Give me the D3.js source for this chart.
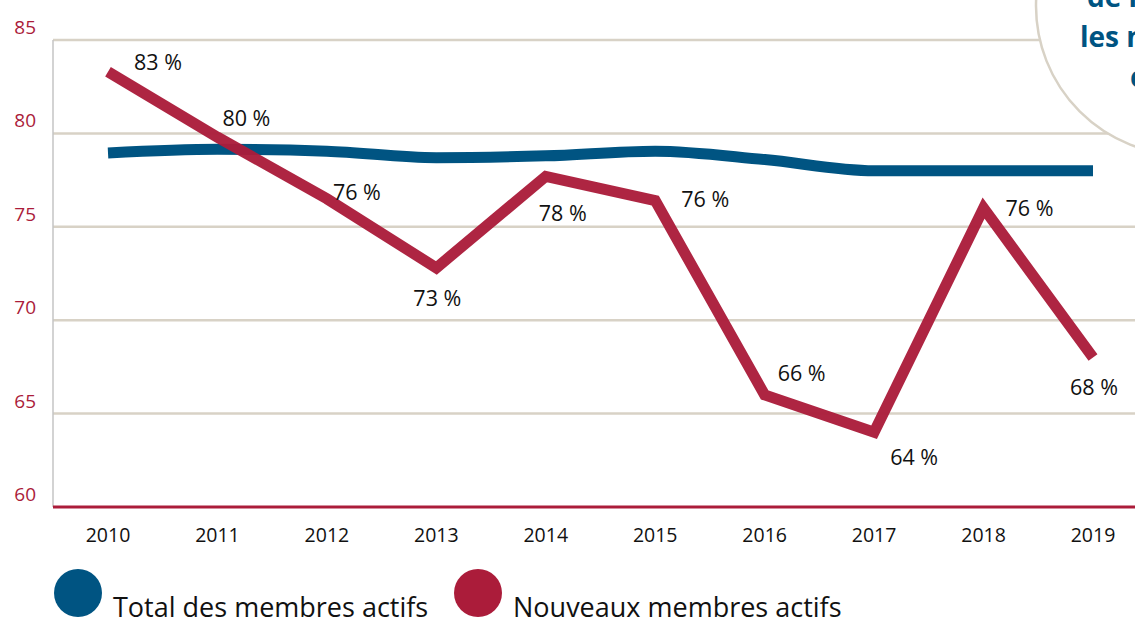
<!DOCTYPE html>
<html>
<head>
<meta charset="utf-8">
<script src="https://cdn.jsdelivr.net/npm/d3@7"></script>
<style>
  body { margin: 0; background: #fff; }
  svg { display: block; font-family: "Open Sans", "Noto Sans", sans-serif; }
</style>
</head>
<body>
<div id="chart"></div>
<script>
// Data
const years = ['2010', '2011', '2012', '2013', '2014', '2015', '2016', '2017', '2018', '2019'];
const totalActifs = [78.95, 79.15, 79.05, 78.7, 78.8, 79.05, 78.6, 78.0, 78.0, 78.0];
const nouveauxActifs = [83.3, 79.8, 76.5, 72.8, 77.7, 76.4, 66.0, 64.0, 76.0, 68.0];
const nouveauxLabels = ['83 %', '80 %', '76 %', '73 %', '78 %', '76 %', '66 %', '64 %', '76 %', '68 %'];
const yTicks = [60, 65, 70, 75, 80, 85];
const legendLabels = ['Total des membres actifs', 'Nouveaux membres actifs'];
const calloutLines = ['de l\u2019ensemble', 'les nouveaux', 'comptent'];

// Position des étiquettes (décalage par rapport au point)
const labelOffsets = [[50, -9], [29, -19], [30, -6], [1, 31], [17, 37], [50, -1], [37, -21], [40, 25], [46, 0], [1, 30]];

const blue = '#005482';
const red = '#ab1c3a';
const grid = '#d8d2c6';

const W = 1135, H = 621;
const svg = d3.select('#chart').append('svg')
  .attr('width', W)
  .attr('height', H);

// Scales
const x = d3.scalePoint().domain(years).range([108, 1093]);
const y = d3.scaleLinear().domain([60, 85]).range([507, 40]);
const axisX = 53;

// Gridlines
svg.append('g')
  .selectAll('line')
  .data(yTicks.filter(d => d > 60))
  .enter()
  .append('line')
  .attr('x1', axisX).attr('x2', W)
  .attr('y1', d => y(d)).attr('y2', d => y(d))
  .attr('stroke', grid)
  .attr('stroke-width', 2.5);

// Axe vertical
svg.append('line')
  .attr('x1', axisX).attr('x2', axisX)
  .attr('y1', y(85)).attr('y2', y(60))
  .attr('stroke', '#c4c4c4')
  .attr('stroke-width', 1.5);

// Ligne de base
svg.append('line')
  .attr('x1', axisX).attr('x2', W)
  .attr('y1', y(60)).attr('y2', y(60))
  .attr('stroke', red)
  .attr('stroke-width', 3);

// Y labels
svg.append('g')
  .selectAll('text')
  .data(yTicks)
  .enter()
  .append('text')
  .attr('x', 36)
  .attr('y', d => y(d) - 6)
  .attr('text-anchor', 'end')
  .attr('font-size', '19px')
  .attr('fill', red)
  .text(d => d);

// X labels
svg.append('g')
  .selectAll('text')
  .data(years)
  .enter()
  .append('text')
  .attr('x', d => x(d))
  .attr('y', 542)
  .attr('text-anchor', 'middle')
  .attr('font-size', '19.5px')
  .attr('fill', '#111')
  .text(d => d);

// Lignes
const lineTotal = d3.line()
  .x((d, i) => x(years[i]))
  .y(d => y(d))
  .curve(d3.curveMonotoneX);

const lineNouveaux = d3.line()
  .x((d, i) => x(years[i]))
  .y(d => y(d));

svg.append('path')
  .datum(totalActifs)
  .attr('d', lineTotal)
  .attr('fill', 'none')
  .attr('stroke', blue)
  .attr('stroke-width', 11);

svg.append('path')
  .datum(nouveauxActifs)
  .attr('d', lineNouveaux)
  .attr('fill', 'none')
  .attr('stroke', red)
  .attr('stroke-opacity', 0.96)
  .attr('stroke-width', 11)
  .attr('stroke-linejoin', 'miter');

// Etiquettes de valeurs
svg.append('g')
  .selectAll('text')
  .data(nouveauxActifs)
  .enter()
  .append('text')
  .attr('x', (d, i) => x(years[i]) + labelOffsets[i][0])
  .attr('y', (d, i) => y(d) + labelOffsets[i][1])
  .attr('dy', '0.35em')
  .attr('text-anchor', 'middle')
  .attr('font-size', '21.5px')
  .attr('fill', '#111')
  .text((d, i) => nouveauxLabels[i]);

// Bulle en haut à droite
svg.append('circle')
  .attr('cx', 1185).attr('cy', 6).attr('r', 149)
  .attr('fill', '#fff')
  .attr('stroke', grid)
  .attr('stroke-width', 2.5);

const calloutX = [1087, 1080, 1130];
svg.append('g')
  .selectAll('text')
  .data(calloutLines)
  .enter()
  .append('text')
  .attr('x', (d, i) => calloutX[i])
  .attr('y', (d, i) => 7 + i * 40)
  .attr('font-size', '28px')
  .attr('font-weight', 'bold')
  .attr('fill', blue)
  .text(d => d);

// Légende
const legendX = [78, 478];
const legendColors = [blue, red];
const legend = svg.append('g');
legend.selectAll('circle')
  .data(legendLabels)
  .enter()
  .append('circle')
  .attr('cx', (d, i) => legendX[i])
  .attr('cy', 593)
  .attr('r', 24)
  .attr('fill', (d, i) => legendColors[i]);

legend.selectAll('text')
  .data(legendLabels)
  .enter()
  .append('text')
  .attr('x', (d, i) => legendX[i] + 35)
  .attr('y', 617)
  .attr('font-size', '27px')
  .attr('fill', '#111')
  .text(d => d);
</script>
</body>
</html>
